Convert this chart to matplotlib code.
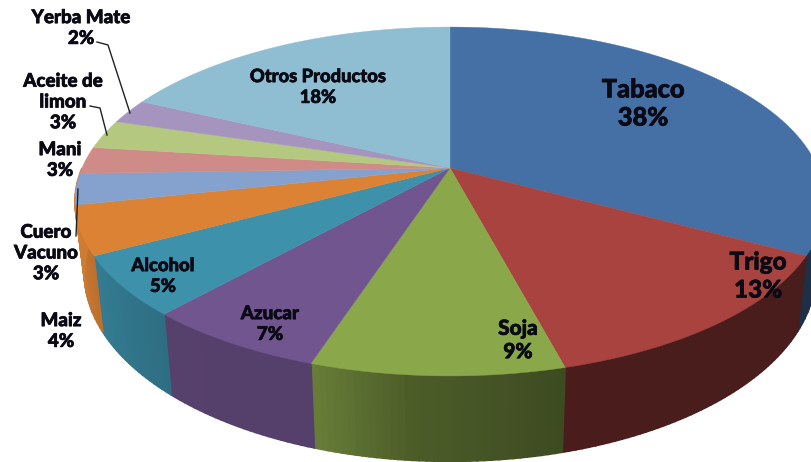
#!/usr/bin/env python3
import numpy as np
import matplotlib.pyplot as plt
from matplotlib.colors import to_rgb
import matplotlib.patheffects as pe

plt.rcParams['font.family'] = ['Lato', 'DejaVu Sans']

# Slice shares as measured on the picture (the printed labels add up to 105)
products = ['Tabaco', 'Trigo', 'Soja', 'Azucar', 'Alcohol', 'Maiz',
            'Cuero Vacuno', 'Mani', 'Aceite de limon', 'Yerba Mate', 'Otros Productos']
shares = [32.9, 13.0, 9.1, 6.6, 5.5, 4.5, 2.9, 2.5, 2.7, 2.3, 18.0]
colors = ['#4470a6', '#a8433f', '#8aa84a', '#71558e', '#3d91ab', '#db8235',
          '#85a2cf', '#cf8b88', '#b4c97f', '#a594bd', '#8fbdd2']

# Label text and where it sits
labels = ['Tabaco\n38%', 'Trigo\n13%', 'Soja\n9%', 'Azucar\n7%', 'Alcohol\n5%', 'Maiz\n4%',
          'Cuero\nVacuno\n3%', 'Mani\n3%', 'Aceite de\nlimon\n3%', 'Yerba Mate\n2%',
          'Otros Productos\n18%']
label_x = [643, 758, 518, 270, 163, 61, 46, 60, 63, 81, 318]
label_y = [104, 276, 340, 324, 276, 331, 253, 160, 102, 28, 87]
label_size = [18.3, 17.5, 15, 13.5, 13.3, 13.5, 13.5, 13.5, 13.5, 13.5, 13.2]

# Pie projection, in pixels of the picture
CX, CY = 450, 168
A, B, P = 368, 168, 0.192
DEPTH = 69


def top(ang):
    u, v = np.sin(ang), np.cos(ang)
    w = 1 + P * v
    return CX + A * u / w, CY - B * v / w


def bottom(ang):
    u, v = np.sin(ang), np.cos(ang)
    w = 1 + P * v
    return CX + 0.975 * A * u / w, CY - B * v / w + DEPTH / w


def side_shade(ang):
    # the rim is dark on the right and gets lighter towards the left
    deg = np.degrees(ang)
    return np.interp(deg, [90, 165, 175, 185, 198, 222, 240, 258, 270],
                     [0.42, 0.44, 0.50, 0.55, 0.75, 0.76, 0.85, 0.95, 0.95])


fig = plt.figure(figsize=(8.11, 4.62), dpi=100)
ax = fig.add_axes([0, 0, 1, 1])
ax.set_xlim(0, 811)
ax.set_ylim(462, 0)
ax.axis('off')

edges = np.radians(np.concatenate([[0], np.cumsum(shares)]) * 3.6)

# rim first, only the part facing us; orange runs on to the far left
for i, col in enumerate(colors[:6]):
    a0, a1 = max(edges[i], np.pi / 2), edges[i + 1]
    if i == 5:
        a1 = 1.5 * np.pi
    steps = np.linspace(a0, a1, int((a1 - a0) * 60) + 2)
    base = np.array(to_rgb(col))
    for s0, s1 in zip(steps[:-1], steps[1:]):
        tx0, ty0 = top(s0)
        tx1, ty1 = top(s1)
        bx0, by0 = bottom(s0)
        bx1, by1 = bottom(s1)
        c = base * side_shade((s0 + s1) / 2)
        ax.fill([tx0, tx1, bx1, bx0], [ty0, ty1, by1, by0], color=c, lw=1.2)

# top face
for i, col in enumerate(colors):
    arc = np.linspace(edges[i], edges[i + 1], 120)
    xs, ys = top(arc)
    ax.fill(np.r_[CX, xs], np.r_[CY, ys], color=col, lw=0.3)

# leader lines
ax.plot([97, 108, 130], [42, 45, 113], color='#222222', lw=1)
ax.plot([90, 100, 107], [106, 108, 135], color='#222222', lw=1)
ax.plot([78, 76], [189, 236], color='#222222', lw=1)

for txt, x, y, size in zip(labels, label_x, label_y, label_size):
    ax.text(x, y, txt, ha='center', va='center', fontsize=size, fontweight='black',
            color='#0a0a14', linespacing=1.27,
            path_effects=[pe.withStroke(linewidth=0.5, foreground='#0a0a14')])

fig.savefig('out.png', dpi=100)
